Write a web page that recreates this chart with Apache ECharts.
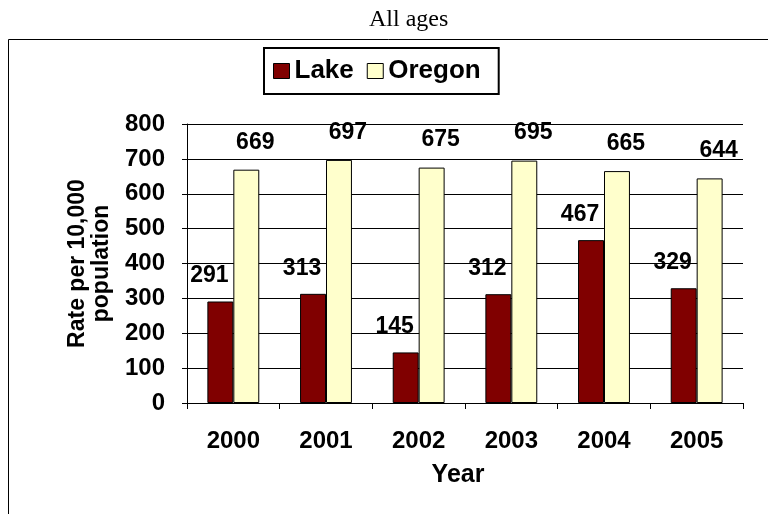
<!DOCTYPE html>
<html><head><meta charset="utf-8">
<script src="https://cdn.jsdelivr.net/npm/echarts@6/dist/echarts.min.js"></script>
<style>html,body{margin:0;padding:0;background:#fff}#c{width:768px;height:514px}</style>
</head><body><div id="c"></div>
<script>
const categories = ['2000','2001','2002','2003','2004','2005'];
const lakeValues = [291, 313, 145, 312, 467, 329];
const oregonValues = [669, 697, 675, 695, 665, 644];
const yTicks = [0, 100, 200, 300, 400, 500, 600, 700, 800];

const chart = echarts.init(document.getElementById('c'));
const FF = 'Liberation Sans, Arial';
const lblFont = {fontFamily: FF, fontWeight: 'bold', fontSize: 23, color: '#000'};
chart.setOption({
  animation: false,
  backgroundColor: '#fff',
  title: {text: 'All ages', left: 364, top: 3,
    textStyle: {fontFamily: 'Liberation Serif, Times New Roman', fontWeight: 'normal', fontSize: 24, color: '#000'}},
  graphic: [{type: 'rect', shape: {x: 8.5, y: 39.5, width: 800, height: 500},
    style: {fill: 'none', stroke: '#000', lineWidth: 1}, silent: true, z: -1}],
  legend: {top: 48, left: 264, itemWidth: 16, itemHeight: 15, itemGap: 13,
    padding: [10, 18, 10, 9], borderColor: '#000', borderWidth: 2,
    textStyle: {fontFamily: FF, fontWeight: 'bold', fontSize: 26, color: '#000'},
    data: [{name: 'Lake', icon: 'rect', itemStyle: {borderColor: '#000', borderWidth: 1}},
           {name: 'Oregon', icon: 'rect', itemStyle: {borderColor: '#000', borderWidth: 1}}]},
  grid: {left: 187, right: 25, top: 124, bottom: 111},
  xAxis: {type: 'category', data: categories, name: 'Year', nameLocation: 'middle', nameGap: 60,
    nameTextStyle: {fontFamily: FF, fontWeight: 'bold', fontSize: 25, color: '#000', padding: [0, 14, 0, 0]},
    axisLine: {lineStyle: {color: '#000', width: 1}},
    axisTick: {show: true, length: 6, lineStyle: {color: '#000'}},
    axisLabel: Object.assign({margin: 26}, lblFont, {fontSize: 24})},
  yAxis: {type: 'value', min: yTicks[0], max: yTicks[yTicks.length-1], interval: 100,
    name: 'Rate per 10,000\npopulation', nameLocation: 'middle', nameGap: 73, nameRotate: 90,
    nameTextStyle: {fontFamily: FF, fontWeight: 'bold', fontSize: 23, color: '#000', lineHeight: 24},
    axisLine: {show: true, lineStyle: {color: '#000', width: 1}},
    axisTick: {show: true, length: 5, lineStyle: {color: '#000'}},
    splitLine: {show: true, lineStyle: {color: '#000', width: 1}},
    axisLabel: Object.assign({margin: 22}, lblFont, {fontSize: 24})},
  series: [
    {name: 'Lake', type: 'bar', data: lakeValues, barGap: '0%', barCategoryGap: '44%',
      itemStyle: {color: '#800000', borderColor: '#000', borderWidth: 1},
      label: Object.assign({show: true, position: 'top', distance: 14, offset: [-11, 0]}, lblFont)},
    {name: 'Oregon', type: 'bar', data: oregonValues, barGap: '0%', barCategoryGap: '44%',
      itemStyle: {color: '#FFFFCC', borderColor: '#000', borderWidth: 1},
      label: Object.assign({show: true, position: 'top', distance: 16, offset: [9, 0]}, lblFont)}
  ]
});
</script></body></html>
